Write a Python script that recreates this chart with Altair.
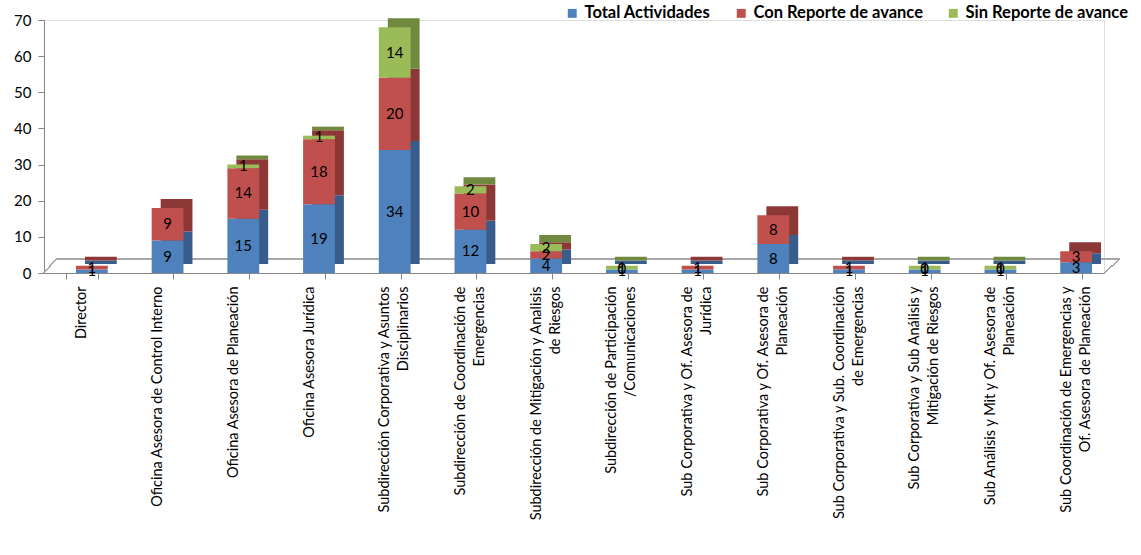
import altair as alt
import pandas as pd

categories = [
    "Director",
    "Oficina Asesora de Control Interno",
    "Oficina Asesora de Planeación",
    "Oficina Asesora Jurídica",
    "Subdirección Corporativa y Asuntos|Disciplinarios",
    "Subdirección de Coordinación de|Emergencias",
    "Subdirección de Mitigación y Analisis|de Riesgos",
    "Subdirección de  Participación|/Comunicaciones",
    "Sub Corporativa y Of. Asesora de|Jurídica",
    "Sub Corporativa  y Of. Asesora de|Planeación",
    "Sub Corporativa y Sub. Coordinación|de Emergencias",
    "Sub Corporativa  y Sub Análisis y|Mitigación de Riesgos",
    "Sub Análisis y Mit y Of. Asesora de|Planeación",
    "Sub Coordinación de Emergencias  y|Of. Asesora de Planeación",
]
total = [1, 9, 15, 19, 34, 12, 4, 1, 1, 8, 1, 1, 1, 3]
con_reporte = [1, 9, 14, 18, 20, 10, 2, 0, 1, 8, 1, 0, 0, 3]
sin_reporte = [0, 0, 1, 1, 14, 2, 2, 1, 0, 0, 0, 1, 1, 0]
series = ["Total Actividades", "Con Reporte de avance", "Sin Reporte de avance"]
colors = ["#4F81BD", "#C0504D", "#9BBB59"]
dark_colors = ["#385D8A", "#8C3836", "#71893F"]
y_ticks = [0, 10, 20, 30, 40, 50, 60, 70]

rows = []
for i, c in enumerate(categories):
    for k, vals in enumerate([total, con_reporte, sin_reporte]):
        rows.append({"cat": c, "series": series[k], "order": k, "value": vals[i],
                     "show": 1 if (vals[i] > 0 or k == 1) else 0})
df = pd.DataFrame(rows)

FONT = "Lato"

base = alt.Chart(df).transform_stack(
    stack="value", groupby=["cat"], as_=["v0", "v1"],
    sort=[alt.SortField("order", order="ascending")]
).transform_calculate(mid="(datum.v0 + datum.v1) / 2")

xenc = alt.X(
    "cat:N", sort=categories,
    scale=alt.Scale(paddingInner=0.58, paddingOuter=0.29),
    axis=alt.Axis(
        title=None, labelAngle=270, labelAlign="right", labelBaseline="middle",
        labelExpr="split(datum.label, '|')", labelLineHeight=19,
        labelFont=FONT, labelFontSize=14.5, labelColor="#000000",
        labelPadding=7, tickBand="extent", tickSize=6, tickColor="#868686",
        domainColor="#868686", labelLimit=400, labelOverlap=False,
    ),
)
yscale = alt.Scale(domain=[0, 70], nice=False)
yaxis = alt.Axis(
    title=None, values=y_ticks, tickCount=8, labelFont=FONT, labelFontSize=15,
    labelColor="#000000", tickSize=6, tickColor="#868686",
    domainColor="#868686", grid=False, labelPadding=7, labelOverlap=False,
    labelFlush=False)
yenc0 = alt.Y("v0:Q", scale=yscale, axis=yaxis)
yenc1 = alt.Y2("v1:Q")

back = base.mark_bar(xOffset=19, x2Offset=19, yOffset=-9, y2Offset=-9).encode(
    x=xenc, y=yenc0, y2=yenc1,
    color=alt.Color("series:N", scale=alt.Scale(domain=series, range=dark_colors), legend=None),
)

front = base.mark_bar(xOffset=10, x2Offset=10).encode(
    x=xenc, y=yenc0, y2=yenc1,
    color=alt.Color("series:N", scale=alt.Scale(domain=series, range=colors),
                    legend=alt.Legend(
                        title=None, orient="none", legendX=520, legendY=-15,
                        direction="horizontal", symbolType="square", symbolSize=80,
                        symbolStrokeWidth=0, labelFont=FONT, labelFontSize=16.5,
                        labelFontWeight="bold", labelColor="#000000", labelLimit=400,
                        columnPadding=22, labelOffset=4)),
)

labels = base.transform_filter("datum.show == 1").mark_text(
    xOffset=10, font=FONT, fontSize=15, color="#000000", baseline="middle"
).encode(x=xenc, y=alt.Y("mid:Q", scale=yscale, axis=yaxis), text="value:Q")

floor_back = alt.Chart(df).mark_rule(color="#A6A6A6", strokeWidth=1).encode(
    x=alt.value(12), x2=alt.value(1076), y=alt.value(239))
floor_left = alt.Chart(df).mark_rule(color="#A6A6A6", strokeWidth=1).encode(
    x=alt.value(0), x2=alt.value(12), y=alt.value(253), y2=alt.value(239))
floor_right = alt.Chart(df).mark_rule(color="#A6A6A6", strokeWidth=1).encode(
    x=alt.value(1060), x2=alt.value(1076), y=alt.value(253), y2=alt.value(239))

chart = alt.layer(floor_back, floor_left, floor_right, back, front, labels).resolve_scale(
    color="independent"
).properties(
    width=1060, height=253,
    autosize=alt.AutoSizeParams(type="none"),
    padding={"left": 44, "top": 20, "right": 37, "bottom": 282},
).configure_view(stroke=None).configure(background="#FFFFFF")

chart.save("out.html", embed_options={"renderer": "svg", "actions": False})
